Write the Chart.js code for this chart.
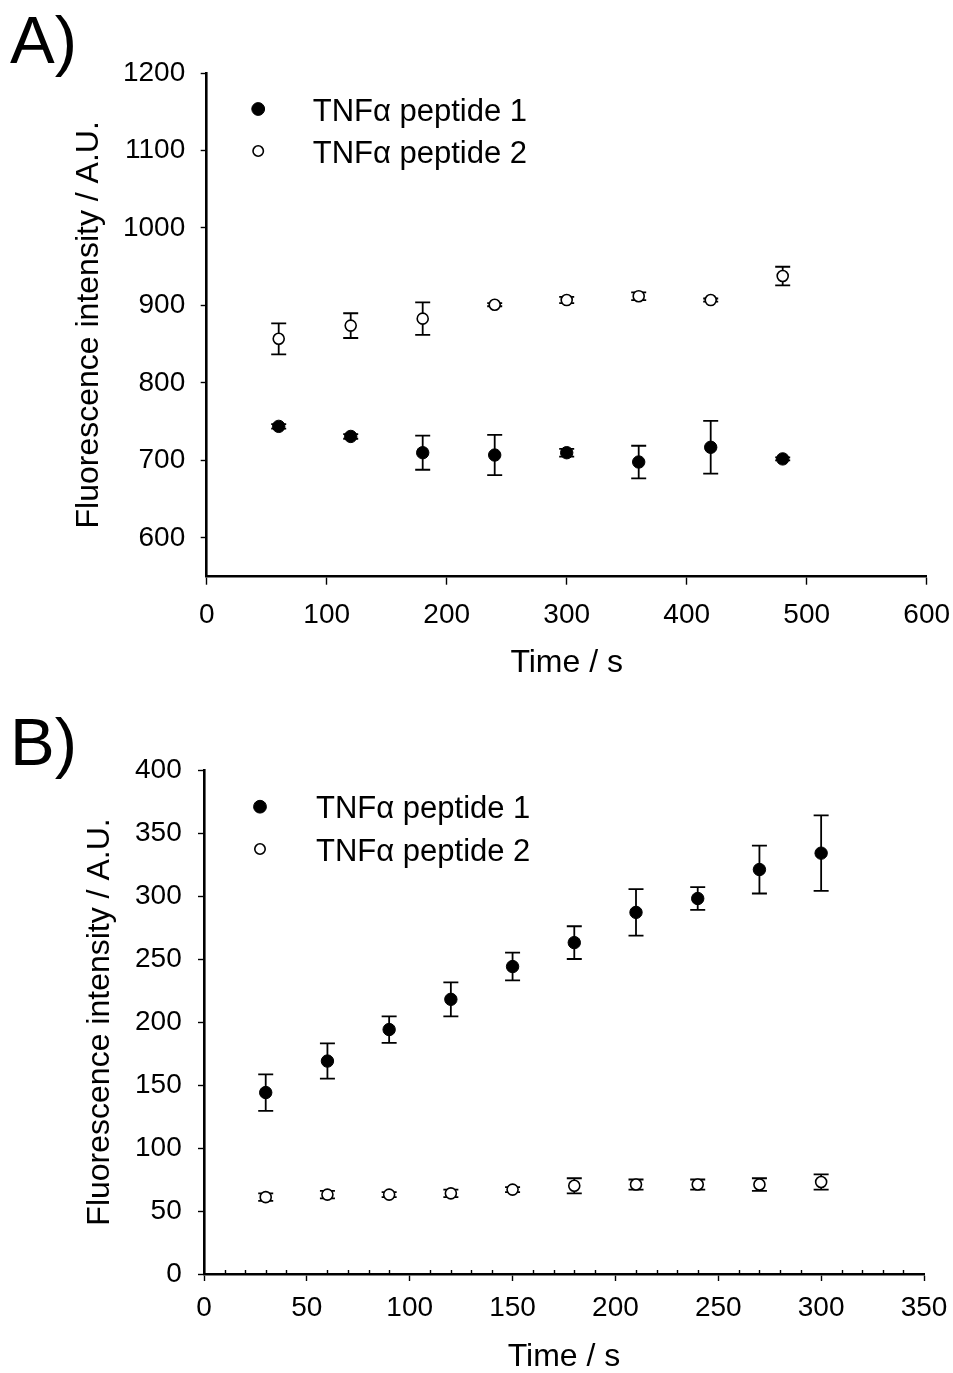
<!DOCTYPE html>
<html>
<head>
<meta charset="utf-8">
<script src="https://cdn.jsdelivr.net/npm/chart.js@4.4.1/dist/chart.umd.min.js"></script>
<style>
  html, body { margin: 0; padding: 0; background: #ffffff; }
  #wrap { position: relative; width: 953px; height: 1373px; }
  .panel { position: absolute; left: 0; width: 953px; }
  #pa { top: 0; height: 690px; }
  #pb { top: 690px; height: 683px; }
  canvas { display: block; }
</style>
</head>
<body>
<div id="wrap">
  <div class="panel" id="pa"><canvas id="chartA" width="953" height="690"></canvas></div>
  <div class="panel" id="pb"><canvas id="chartB" width="953" height="683"></canvas></div>
</div>
<script>
// ---- data ----
const seriesLabels = ['TNFα peptide 1', 'TNFα peptide 2'];

// Panel A: fluorescence over time
const timeA    = [60, 120, 180, 240, 300, 360, 420, 480];
const pep1A    = [744, 731, 710, 707, 710, 698, 717, 702];
const pep1ErrA = [3, 3, 22, 26, 5, 21, 34, 2];
const pep2A    = [857, 874, 883, 901, 907, 912, 907, 938];
const pep2ErrA = [20, 16, 21, 2, 4, 5, 2, 12];
const xRangeA  = [0, 600, 100];
const yRangeA  = [550, 1200, 100];

// Panel B: fluorescence over time
const timeB    = [30, 60, 90, 120, 150, 180, 210, 240, 270, 300];
const pep1B    = [144, 169, 194, 218, 244, 263, 287, 298, 321, 334];
const pep1ErrB = [14.5, 14, 10.5, 13.5, 11, 13, 18.5, 9, 19, 30];
const pep2B    = [61, 63, 63, 64, 67, 70, 71, 71, 71, 73];
const pep2ErrB = [3, 3, 2, 3, 2, 6, 4, 4, 5, 6];
const xRangeB  = [0, 350, 50];
const yRangeB  = [0, 400, 50];
const xMinorStepB = 10;

const xTitle = 'Time / s';
const yTitle = 'Fluorescence intensity / A.U.';

// ---- styling ----
const FONT = '"Liberation Sans", Arial, Helvetica, sans-serif';
Chart.defaults.font.family = FONT;
Chart.defaults.color = '#000';

// vertical error bars with caps, drawn beneath the markers
const errorBars = {
  id: 'errorBars',
  beforeDatasetsDraw(chart, args, o) {
    const { ctx, scales: { x, y } } = chart;
    ctx.save();
    ctx.strokeStyle = '#000';
    ctx.lineWidth = o.lineWidth;
    chart.data.datasets.forEach(ds => {
      if (!ds.errors) return;
      ds.data.forEach((p, j) => {
        const e = ds.errors[j];
        const px = x.getPixelForValue(p.x);
        const yt = y.getPixelForValue(p.y + e);
        const yb = y.getPixelForValue(p.y - e);
        ctx.beginPath();
        ctx.moveTo(px, yt); ctx.lineTo(px, yb);
        ctx.moveTo(px - o.cap, yt); ctx.lineTo(px + o.cap, yt);
        ctx.moveTo(px - o.cap, yb); ctx.lineTo(px + o.cap, yb);
        ctx.stroke();
      });
    });
    ctx.restore();
  }
};

// legend placed inside the plot area, top-left
const insideLegend = {
  id: 'insideLegend',
  afterDraw(chart, args, o) {
    const { ctx, chartArea } = chart;
    ctx.save();
    chart.data.datasets.forEach((ds, i) => {
      const cy = chartArea.top + o.top + i * o.rowGap;
      const cx = chartArea.left + o.markerX;
      ctx.beginPath();
      ctx.arc(cx, cy, o.radius[i], 0, Math.PI * 2);
      ctx.fillStyle = ds.backgroundColor;
      ctx.fill();
      ctx.lineWidth = ds.borderWidth;
      ctx.strokeStyle = ds.borderColor;
      ctx.stroke();
      ctx.fillStyle = '#000';
      ctx.font = o.fontSize + 'px ' + FONT;
      ctx.textBaseline = 'alphabetic';
      ctx.textAlign = 'left';
      ctx.fillText(ds.label, chartArea.left + o.textX, cy + o.textDy);
    });
    ctx.restore();
  }
};

// small inward minor tick marks along the time axis
const minorTicks = {
  id: 'minorTicks',
  afterDraw(chart, args, o) {
    if (!o.step) return;
    const { ctx, chartArea, scales: { x } } = chart;
    ctx.save();
    ctx.strokeStyle = '#000';
    ctx.lineWidth = o.width;
    ctx.beginPath();
    for (let v = x.min; v <= x.max + 1e-9; v += o.step) {
      if (Math.abs(v % o.major) < 1e-9) continue;
      const px = Math.round(x.getPixelForValue(v)) + 0.5;
      ctx.moveTo(px, chartArea.bottom);
      ctx.lineTo(px, chartArea.bottom - o.len);
    }
    ctx.stroke();
    ctx.restore();
  }
};

// panel letter in the top-left corner
const panelLetter = {
  id: 'panelLetter',
  afterDraw(chart, args, o) {
    const { ctx } = chart;
    ctx.save();
    ctx.fillStyle = '#000';
    ctx.font = o.size + 'px ' + FONT;
    ctx.textBaseline = 'alphabetic';
    ctx.textAlign = 'left';
    ctx.fillText(o.text, o.x, o.y);
    ctx.restore();
  }
};

function points(xs, ys) {
  return xs.map((t, i) => ({ x: t, y: ys[i] }));
}

function datasets(xs, y1, e1, y2, e2) {
  return [
    {
      label: seriesLabels[0],
      data: points(xs, y1),
      errors: e1,
      showLine: false,
      pointStyle: 'circle',
      pointRadius: 6.2,
      backgroundColor: '#000',
      borderColor: '#000',
      borderWidth: 1,
      pointHoverRadius: 6.2
    },
    {
      label: seriesLabels[1],
      data: points(xs, y2),
      errors: e2,
      showLine: false,
      pointStyle: 'circle',
      pointRadius: 5.5,
      backgroundColor: '#fff',
      borderColor: '#000',
      borderWidth: 1.6,
      pointHoverRadius: 5.5
    }
  ];
}

const plainNumber = v => String(v);

function scales(c) {
  return {
    x: {
      type: 'linear',
      position: 'bottom',
      min: c.xr[0], max: c.xr[1],
      ticks: {
        stepSize: c.xr[2], includeBounds: false, autoSkip: false, maxRotation: 0,
        color: '#000', font: { size: 28 }, padding: c.xTickPad, callback: plainNumber
      },
      grid: {
        display: true, drawOnChartArea: false, drawTicks: true,
        tickLength: c.xTickLen, tickWidth: 1.4, tickColor: '#000'
      },
      border: { display: true, color: '#000', width: 2.6 },
      title: {
        display: true, text: xTitle, color: '#000',
        font: { size: 32, lineHeight: 1 }, padding: { top: 0, bottom: c.xTitlePad }
      },
      afterFit: s => { s.height = c.xHeight; s.paddingLeft = 0; s.paddingRight = 0; }
    },
    y: {
      type: 'linear',
      position: 'left',
      min: c.yr[0], max: c.yr[1],
      ticks: {
        stepSize: c.yr[2], includeBounds: false, autoSkip: false,
        color: '#000', font: { size: 28 }, padding: c.yTickPad, callback: plainNumber
      },
      grid: {
        display: true, drawOnChartArea: false, drawTicks: true,
        tickLength: 6, tickWidth: 1.4, tickColor: '#000'
      },
      border: { display: true, color: '#000', width: 2.6 },
      title: {
        display: true, text: yTitle, color: '#000',
        font: { size: 32, lineHeight: 1 }, padding: { top: c.yTitlePad, bottom: 0 }
      },
      afterFit: s => { s.width = c.yWidth; s.paddingTop = 0; s.paddingBottom = 0; }
    }
  };
}

function makeChart(id, ds, c) {
  return new Chart(document.getElementById(id), {
    type: 'scatter',
    data: { datasets: ds },
    plugins: [errorBars, insideLegend, minorTicks, panelLetter],
    options: {
      responsive: false,
      animation: false,
      devicePixelRatio: 1,
      layout: { padding: c.pad },
      scales: scales(c),
      plugins: {
        legend: { display: false },
        tooltip: { enabled: false },
        errorBars: { lineWidth: 1.8, cap: 7.5 },
        insideLegend: c.legend,
        minorTicks: c.minor,
        panelLetter: c.letter
      }
    }
  });
}

makeChart('chartA', datasets(timeA, pep1A, pep1ErrA, pep2A, pep2ErrA), {
  xr: xRangeA, yr: yRangeA,
  pad: { top: 73, right: 26.3, bottom: 0, left: 0 },
  xHeight: 113.3, yWidth: 206.7,
  xTickPad: 14, xTickLen: 8, yTickPad: 15.5,
  xTitlePad: 11.1, yTitlePad: 73.6,
  legend: { top: 36, rowGap: 42, markerX: 51.5, textX: 106, textDy: 11.5, fontSize: 31, radius: [6.4, 5.2] },
  minor: { step: 0 },
  letter: { text: 'A)', x: 10, y: 63, size: 67 }
});

makeChart('chartB', datasets(timeB, pep1B, pep1ErrB, pep2B, pep2ErrB), {
  xr: xRangeB, yr: yRangeB,
  pad: { top: 80, right: 29, bottom: 0, left: 0 },
  xHeight: 99, yWidth: 204,
  xTickPad: 10.7, xTickLen: 7, yTickPad: 16.3,
  xTitlePad: 0.1, yTitlePad: 84.6,
  legend: { top: 36.7, rowGap: 42.3, markerX: 56, textX: 112, textDy: 11.5, fontSize: 31, radius: [6.4, 5.2] },
  minor: { step: xMinorStepB, major: xRangeB[2], len: 4, width: 1.4 },
  letter: { text: 'B)', x: 10, y: 75, size: 67 }
});
</script>
</body>
</html>
